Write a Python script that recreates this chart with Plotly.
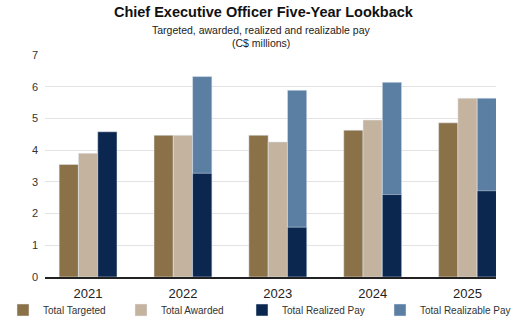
import plotly.graph_objects as go

years = ["2021", "2022", "2023", "2024", "2025"]
targeted = [3.55, 4.47, 4.47, 4.63, 4.86]
awarded = [3.90, 4.47, 4.26, 4.95, 5.64]
realized = [4.58, 3.27, 1.57, 2.60, 2.72]
realizable = [None, 6.32, 5.89, 6.14, 5.64]

C_TARGET = "#8A7148"
C_AWARD = "#C4B39E"
C_REAL = "#0B2750"
C_REALIZABLE = "#5B7EA3"

fig = go.Figure()
fig.add_bar(x=years, y=targeted, name="Total Targeted", marker_color=C_TARGET,
            offsetgroup="a", legend="legend")
fig.add_bar(x=years, y=awarded, name="Total Awarded", marker_color=C_AWARD,
            offsetgroup="b", legend="legend2")
fig.add_bar(x=years, y=realizable, name="Total Realizable Pay", marker_color=C_REALIZABLE,
            offsetgroup="c", legend="legend4")
fig.add_bar(x=years, y=realized, name="Total Realized Pay", marker_color=C_REAL,
            offsetgroup="c", legend="legend3")

font_main = "Liberation Sans, Arial, sans-serif"


def leg(xpix):
    return dict(orientation="h", xref="container", yref="container",
                x=xpix / 530, xanchor="left", y=11 / 321, yanchor="middle",
                bgcolor="rgba(0,0,0,0)", borderwidth=0,
                font=dict(size=10, color="#333333"),
                itemclick=False, itemdoubleclick=False)


fig.update_layout(
    width=530, height=321,
    margin=dict(l=45, r=34, t=55, b=44, autoexpand=False),
    paper_bgcolor="white", plot_bgcolor="white",
    barmode="group", bargap=0.39, bargroupgap=0,
    font=dict(family=font_main, color="#333333", size=11),
    title=dict(text="<b>Chief Executive Officer Five-Year Lookback</b>",
               font=dict(family=font_main, size=14.5, color="#111111"),
               x=0.497, xanchor="center", y=1 - 12 / 321, yanchor="middle"),
    showlegend=True,
    legend=leg(3), legend2=leg(121), legend3=leg(242), legend4=leg(380),
    xaxis=dict(type="category", range=[-0.454, 4.30], showgrid=False,
               showline=True, linecolor="#222222", linewidth=1.5,
               tickfont=dict(size=13, color="#222222"), ticklabelstandoff=4),
    yaxis=dict(range=[0, 7], dtick=1, showgrid=True, gridcolor="#E3E3E3", gridwidth=1,
               zeroline=False, showline=False,
               tickfont=dict(size=11, color="#333333"), ticklabelstandoff=6),
)

fig.add_annotation(text="Targeted, awarded, realized and realizable pay", xref="paper", yref="paper",
                   x=0.48, y=1, yanchor="middle", yshift=25, showarrow=False,
                   font=dict(size=10.5, color="#222222", family=font_main))
fig.add_annotation(text="(C$ millions)", xref="paper", yref="paper",
                   x=0.48, y=1, yanchor="middle", yshift=12, showarrow=False,
                   font=dict(size=10.5, color="#222222", family=font_main))

fig.write_html("out.html")
